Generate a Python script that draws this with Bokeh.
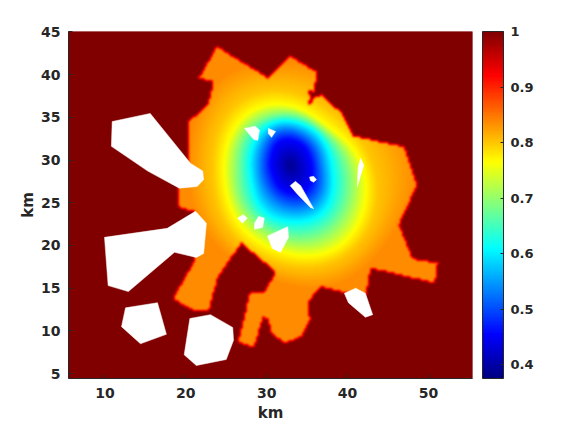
import numpy as np
from bokeh.embed import file_html
from bokeh.resources import INLINE
from bokeh.plotting import figure
from bokeh.models import (ColorBar, FixedTicker, LinearColorMapper, Range1d)

# --- data (km) ------------------------------------------------------------
x_ticks = [10, 20, 30, 40, 50]
y_ticks = [5, 10, 15, 20, 25, 30, 35, 40, 45]
cbar_ticks = [0.4, 0.5, 0.6, 0.7, 0.8, 0.9, 1]
well_center = (32.94, 29.37)
well_min = 0.385
far_value = 0.835
contour_levels = [0.453, 0.53, 0.61, 0.69, 0.766, 0.80]
# radius (km) of each level, angles 0, 30, ... 330 degrees
r_0453 = [2.6, 2.6, 2.8, 3.0, 3.0, 2.6, 2.4, 2.4, 2.8, 3.2, 3.4, 3.0]
r_053 = [3.8, 3.8, 3.9, 4.2, 4.3, 3.9, 3.7, 3.9, 4.4, 4.9, 5.1, 4.5]
r_061 = [5.1, 5.0, 5.0, 5.2, 5.4, 5.2, 5.0, 5.4, 6.3, 6.6, 6.8, 6.0]
r_069 = [7.0, 6.0, 5.7, 6.0, 6.4, 6.7, 6.6, 7.2, 7.9, 8.6, 9.0, 8.2]
r_0766 = [8.8, 7.0, 6.4, 7.0, 7.8, 8.2, 8.2, 8.8, 9.6, 10.4, 11.2, 10.4]
r_080 = [10.2, 8.6, 8.0, 8.6, 9.5, 9.8, 9.6, 10.2, 11.0, 11.8, 12.5, 11.8]
r_far = [15.0, 13.0, 12.0, 12.0, 13.0, 13.0, 12.5, 13.0, 13.0, 14.0, 15.0, 15.0]

domain_x = [23.8, 30.1, 32.8, 36.15, 35.8, 35.1, 35.3, 35.0, 35.9, 36.65, 39.1, 40.6, 46.9, 48.5, 46.3,
            48.0, 51.1, 50.7, 42.8, 42.2, 39.6, 36.65, 35.0, 35.3, 34.3, 32.2, 30.5, 30.2, 29.5, 28.4, 26.4,
            27.9, 29.6, 31.1, 26.8, 23.9, 22.8, 20.95, 18.35, 20.95, 21.3, 20.95, 19.1, 19.0, 20.1, 20.3,
            20.2, 22.7, 23.4, 21.6]
domain_y = [43.2, 39.55, 42.1, 40.25, 37.9, 38.05, 37.2, 36.0, 37.3, 37.55, 35.55, 32.75, 31.5, 27.0, 22.35,
            18.35, 17.9, 15.55, 17.3, 14.15, 14.4, 15.1, 13.3, 11.2, 9.35, 8.5, 9.7, 11.2, 11.6, 8.05, 8.6,
            14.5, 14.4, 16.8, 20.2, 16.25, 12.4, 12.3, 13.7, 18.0, 20.6, 23.9, 24.45, 26.7, 28.8, 30.3,
            34.4, 36.4, 39.1, 39.55]

hole_xs = [
    [10.9, 15.6, 20.6, 22.1, 22.2, 21.4, 19.2, 15.3, 10.8],
    [9.95, 17.7, 21.2, 22.55, 22.2, 21.3, 18.6, 12.9, 10.4],
    [12.55, 16.5, 17.6, 14.4, 12.05],
    [20.5, 23.05, 25.8, 25.9, 25.0, 21.3, 19.8],
    [39.6, 41.0, 42.2, 43.1, 42.2, 40.1],
    [27.25, 28.6, 29.1, 28.9, 28.4],
    [30.2, 31.1, 30.6, 30.2],
    [41.6, 42.0, 41.2, 41.3],
    [35.3, 35.8, 36.15, 35.8, 35.4],
    [32.9, 33.55, 34.2, 35.8, 35.4, 33.8],
    [26.4, 27.1, 27.6, 27.0],
    [29.0, 29.7, 29.5, 28.5, 28.5],
    [30.1, 32.6, 32.7, 31.7, 30.7],
]
hole_ys = [
    [34.5, 35.45, 29.6, 28.7, 27.7, 26.9, 26.7, 28.7, 31.6],
    [20.95, 22.0, 24.0, 22.6, 19.05, 18.6, 19.2, 14.6, 15.3],
    [12.7, 13.3, 9.6, 8.5, 10.5],
    [11.45, 11.9, 10.4, 8.9, 6.65, 5.95, 7.2],
    [14.4, 15.0, 14.4, 11.9, 11.6, 13.3],
    [33.7, 33.95, 33.5, 32.3, 32.4],
    [33.7, 33.35, 32.65, 33.1],
    [30.2, 29.4, 26.9, 29.1],
    [28.0, 28.1, 27.7, 27.4, 27.6],
    [27.0, 27.5, 27.0, 24.3, 24.45, 26.0],
    [23.2, 23.6, 23.2, 22.6],
    [23.4, 23.2, 22.1, 21.9, 22.6],
    [21.1, 22.2, 20.95, 19.2, 19.65],
]

# --- plot setup -----------------------------------------------------------
X0, X1, Y0, Y1 = 5.5, 55.44, 4.43, 45.04
NX, NY = 404, 347
TXT = "#262626"


def smooth_periodic(vals, n=360):
    spec = np.fft.rfft(np.asarray(vals, float))
    out = np.zeros(n // 2 + 1, complex)
    out[:len(spec)] = spec
    return np.fft.irfft(out, n) * n / len(vals)


def blur(a, k):
    ker = np.ones(k) / k
    pad = k // 2
    a = np.pad(a, pad, mode="edge")
    a = np.apply_along_axis(lambda v: np.convolve(v, ker, mode="valid"), 0, a)
    a = np.apply_along_axis(lambda v: np.convolve(v, ker, mode="valid"), 1, a)
    return a


def inside(px, py, vx, vy):
    vx, vy = np.asarray(vx), np.asarray(vy)
    res = np.zeros(px.shape, bool)
    for i in range(len(vx)):
        j = (i - 1) % len(vx)
        cond = (vy[i] > py) != (vy[j] > py)
        xc = vx[i] + (py - vy[i]) * (vx[j] - vx[i]) / (vy[j] - vy[i] + 1e-12)
        res ^= cond & (px < xc)
    return res


gx = X0 + (np.arange(NX) + .5) * (X1 - X0) / NX
gy = Y0 + (np.arange(NY) + .5) * (Y1 - Y0) / NY
GX, GY = np.meshgrid(gx, gy)
dx, dy = GX - well_center[0], GY - well_center[1]
R = np.hypot(dx, dy)
TH = (np.degrees(np.arctan2(dy, dx)) % 360).astype(int) % 360

rows = [smooth_periodic(r) for r in (r_0453, r_053, r_061, r_069, r_0766, r_080, r_far)]
vals = np.array([well_min] + contour_levels + [far_value])
field = np.full(R.shape, far_value)
for deg in range(360):
    m = TH == deg
    knots = np.array([0.0] + [row[deg] for row in rows])
    field[m] = np.interp(R[m], knots, vals)
field = blur(field, 5)

# coarse raster of the domain gives the stepped edge, blur gives the red fringe
cell = 2
cgx, cgy = np.meshgrid(gx[::cell], gy[::cell])
cmask = inside(cgx, cgy, domain_x, domain_y).astype(float)
mask = np.repeat(np.repeat(cmask, cell, axis=0), cell, axis=1)[:NY, :NX]
mask = blur(blur(mask, 3), 3)
img = field * mask + (1 - mask) * 1.0

t = np.linspace(0, 1, 256)
jr = np.clip(np.minimum(4 * t - 1.5, 4.5 - 4 * t), 0, 1)
jg = np.clip(np.minimum(4 * t - 0.5, 3.5 - 4 * t), 0, 1)
jb = np.clip(np.minimum(4 * t + 0.5, 2.5 - 4 * t), 0, 1)
jet = ["#%02x%02x%02x" % (int(round(r * 255)), int(round(g * 255)), int(round(b * 255)))
       for r, g, b in zip(jr, jg, jb)]
mapper = LinearColorMapper(palette=jet, low=0.375, high=1.0)

p = figure(frame_width=NX, frame_height=NY, output_backend="svg", toolbar_location=None,
           x_range=Range1d(X0, X1), y_range=Range1d(Y0, Y1),
           min_border_left=68, min_border_top=31, min_border_bottom=46, min_border_right=10,
           background_fill_color="#800000", border_fill_color="white", outline_line_color=None)
p.grid.visible = False
p.image(image=[img], x=X0, y=Y0, dw=X1 - X0, dh=Y1 - Y0, color_mapper=mapper)
p.patches(hole_xs, hole_ys, fill_color="white", line_color="white", line_width=0.5)

for ax, lab, ticks in ((p.xaxis[0], "km", x_ticks), (p.yaxis[0], "km", y_ticks)):
    ax.ticker = FixedTicker(ticks=ticks)
    ax.axis_label = lab
    ax.axis_label_text_font = "DejaVu Sans"
    ax.axis_label_text_font_style = "bold"
    ax.axis_label_text_font_size = "15px"
    ax.axis_label_text_color = TXT
    ax.major_label_text_font = "DejaVu Sans"
    ax.major_label_text_font_style = "bold"
    ax.major_label_text_font_size = "14px"
    ax.major_label_text_color = TXT
    ax.axis_line_color = TXT
    ax.axis_line_width = 1
    ax.major_tick_line_color = TXT
    ax.major_tick_in = 4
    ax.major_tick_out = 0
    ax.minor_tick_line_color = None
p.xaxis[0].major_label_standoff = 9
p.xaxis[0].axis_label_standoff = 3
p.yaxis[0].major_label_standoff = 8
p.yaxis[0].axis_label_standoff = 1

cb = ColorBar(color_mapper=mapper, ticker=FixedTicker(ticks=cbar_ticks), width=21, height=NY,
              padding=0, margin=0, location=(10, 0),
              major_label_text_font="DejaVu Sans", major_label_text_font_style="bold",
              major_label_text_font_size="13px", major_label_text_color=TXT,
              major_tick_line_color=TXT, major_tick_in=3, major_tick_out=0, minor_tick_line_color=None,
              bar_line_color=TXT, bar_line_width=1, label_standoff=7,
              background_fill_color=None, border_line_color=None)
p.add_layout(cb, "right")

open("out.html", "w").write(file_html(p, INLINE))
